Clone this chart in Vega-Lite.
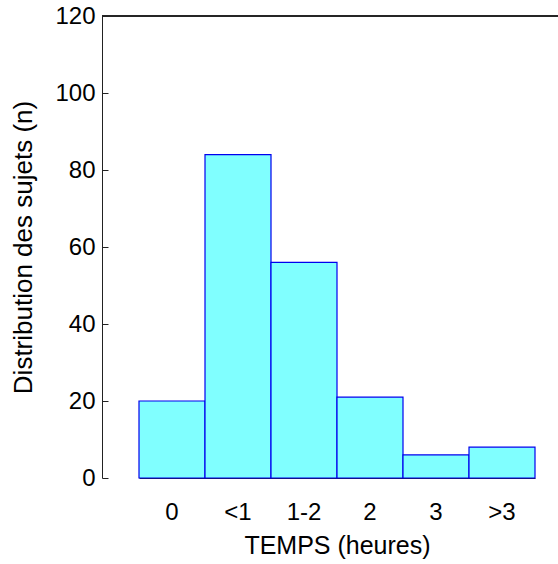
{
  "$schema": "https://vega.github.io/schema/vega-lite/v6.json",
  "autosize": {"type": "none"},
  "padding": {"left": 102, "top": 16, "right": 0, "bottom": 86},
  "width": 456,
  "height": 462,
  "background": "white",
  "config": {
    "view": {"stroke": null},
    "font": "Liberation Sans",
    "axis": {
      "domainColor": "#222222",
      "tickColor": "#222222",
      "labelColor": "#000000",
      "titleColor": "#000000",
      "labelFont": "Liberation Sans",
      "titleFont": "Liberation Sans",
      "titleFontWeight": "normal",
      "grid": false
    }
  },
  "data": {
    "values": [
      {"temps": "0", "n": 20},
      {"temps": "<1", "n": 84},
      {"temps": "1-2", "n": 56},
      {"temps": "2", "n": 21},
      {"temps": "3", "n": 6},
      {"temps": ">3", "n": 8}
    ]
  },
  "layer": [
    {
      "mark": {"type": "bar", "fill": "#80ffff", "stroke": "#0000ee", "strokeWidth": 1.2},
      "encoding": {
        "x": {
          "field": "temps",
          "type": "ordinal",
          "sort": null,
          "scale": {"range": [37, 433], "paddingInner": 0, "paddingOuter": 0},
          "axis": {"title": "TEMPS (heures)", "labelAngle": 0, "ticks": false, "labelPadding": 22, "titlePadding": 9, "labelFontSize": 24, "titleFontSize": 25}
        },
        "y": {
          "field": "n",
          "type": "quantitative",
          "scale": {"domain": [0, 120], "nice": false},
          "axis": {"title": "Distribution des sujets (n)", "values": [0, 20, 40, 60, 80, 100, 120], "tickSize": -6, "tickWidth": 1, "labelPadding": 13, "titlePadding": 18, "labelFontSize": 24, "titleFontSize": 26}
        }
      }
    },
    {
      "mark": {"type": "rule", "color": "#222222", "strokeWidth": 1},
      "encoding": {"y": {"datum": 120}}
    }
  ]
}
